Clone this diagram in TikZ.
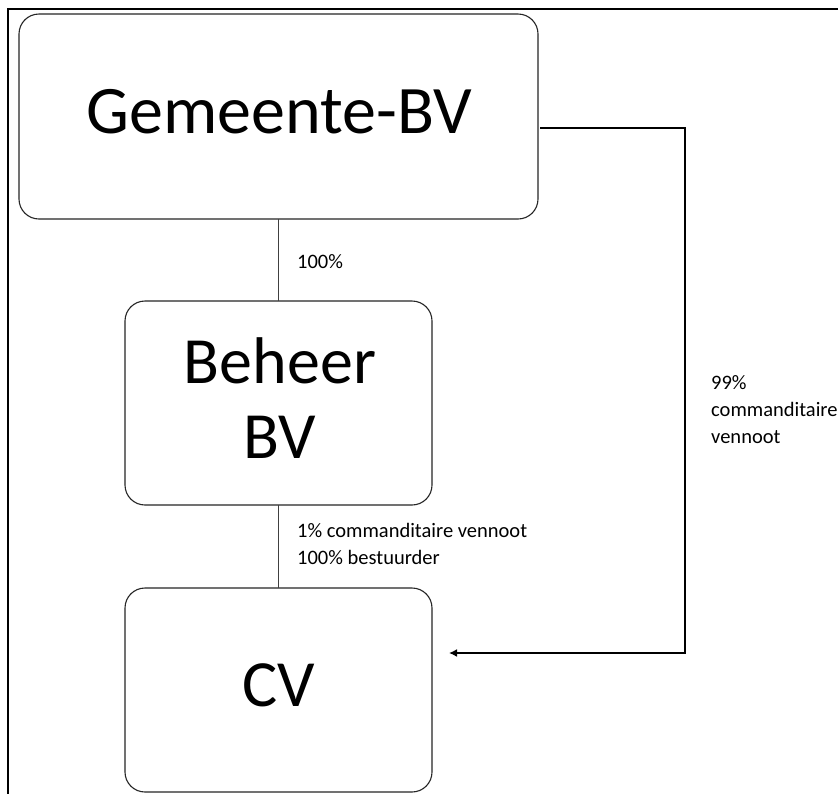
\documentclass[tikz,border=0pt]{standalone}
\usepackage{fontspec}
\setmainfont{Carlito}
\usetikzlibrary{arrows.meta}
\begin{document}
\begin{tikzpicture}[x=1pt,y=-1pt,
  boxst/.style={draw=black!85,line width=1.1pt,rounded corners=20pt},
  bigtext/.style={font=\fontsize{66}{75}\selectfont,anchor=base,inner sep=0pt},
  smalltext/.style={font=\fontsize{20.5}{27}\selectfont,anchor=base west,inner sep=0pt,align=left},
  thinline/.style={draw=black!75,line width=1pt},
  thickline/.style={draw=black,line width=2.2pt}]
\useasboundingbox (0,0) rectangle (838,793);
\fill[white] (0,0) rectangle (838,793);
% frame
\draw[line width=2.8pt] (8,800) -- (8,9) -- (845,9);
% boxes
\draw[boxst] (19,14) rectangle (538,219);
\draw[boxst] (125,301) rectangle (432,505);
\draw[boxst] (125,588) rectangle (432,792);
\coordinate (gb) at (278,219);
\coordinate (bt) at (278,301);
\coordinate (bb) at (278,505);
\coordinate (ct) at (278,588);
\coordinate (gr) at (540,128);
\coordinate (cr) at (449,653);
% texts
\node[bigtext,font=\fontsize{68}{75}\selectfont] (g) at (279.5,133) {Gemeente-BV};
\node[bigtext] (b1) at (280,383) {Beheer};
\node[bigtext] (b2) at (280,458) {BV};
\node[bigtext] (c) at (279,706) {CV};
% connectors
\draw[thinline] (gb) -- (bt);
\draw[thinline] (bb) -- (ct);
\draw[thickline,-{Latex[length=8pt,width=8pt]}] (gr) -- (685,128) -- (685,653) -- (cr);
% labels
\node[smalltext] (l1) at (297,268) {100\%};
\node[smalltext] (l2) at (297,564) {1\% commanditaire vennoot\\100\% bestuurder};
\node[smalltext] (l3) at (711,443) {99\%\\commanditaire\\vennoot};
\end{tikzpicture}
\end{document}
